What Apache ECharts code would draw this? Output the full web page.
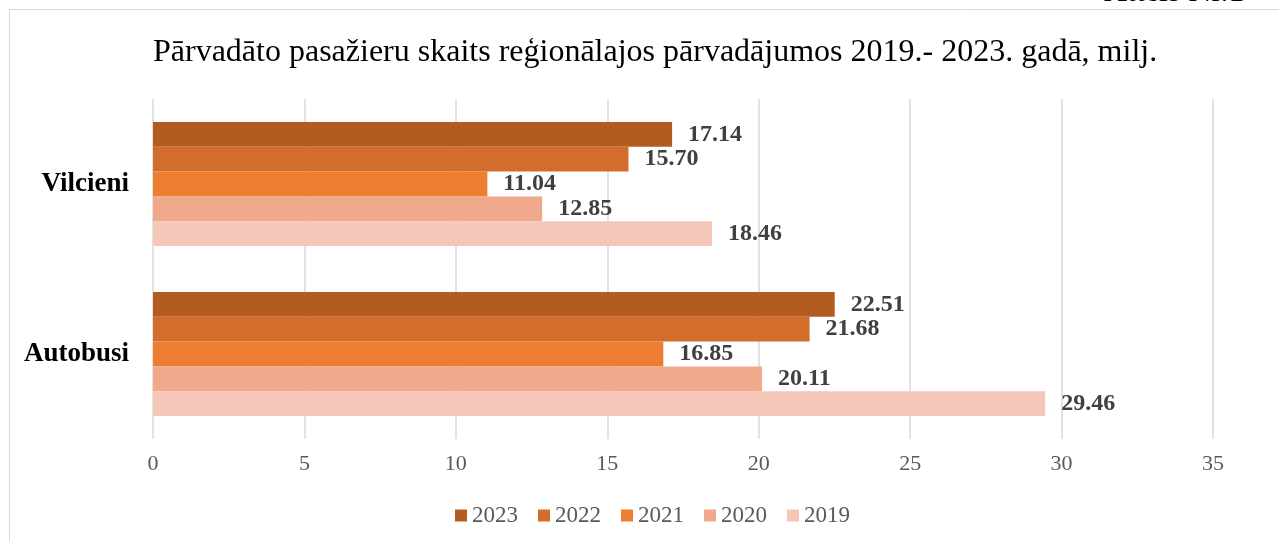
<!DOCTYPE html>
<html><head><meta charset="utf-8">
<script src="https://cdn.jsdelivr.net/npm/echarts@6/dist/echarts.min.js"></script>
<style>html,body{margin:0;padding:0;background:#fff}#c{width:1279px;height:541px}</style>
</head><body><div id="c"></div>
<script>
const categories = ['Autobusi', 'Vilcieni'];
const years = ['2023', '2022', '2021', '2020', '2019'];
const v2023 = [22.51, 17.14];
const v2022 = [21.68, 15.70];
const v2021 = [16.85, 11.04];
const v2020 = [20.11, 12.85];
const v2019 = [29.46, 18.46];
const xTicks = [0, 5, 10, 15, 20, 25, 30, 35];

const values = { '2023': v2023, '2022': v2022, '2021': v2021, '2020': v2020, '2019': v2019 };
const colors = { '2023': '#B35C22', '2022': '#D36D2B', '2021': '#ED7D31', '2020': '#F0A98A', '2019': '#F4C7B8' };
const serif = '"Liberation Serif", "DejaVu Serif", serif';

const series = years.map(y => ({
  name: y, type: 'bar', data: values[y], barGap: '0%', barCategoryGap: '27%',
  itemStyle: { color: colors[y] },
  label: { show: true, position: 'right', distance: 16, formatter: p => p.value.toFixed(2),
    fontFamily: serif, fontWeight: 'bold', fontSize: 24, color: '#404040' }
}));

const chart = echarts.init(document.getElementById('c'));
chart.setOption({
  animation: false,
  title: { text: 'Pārvadāto pasažieru skaits reģionālajos pārvadājumos 2019.- 2023. gadā, milj.',
    left: 148, top: 32, textStyle: { fontFamily: serif, fontWeight: 'normal', fontSize: 32, color: '#000' } },
  graphic: [
    { type: 'line', shape: { x1: 9.5, y1: 9.5, x2: 1279, y2: 9.5 }, style: { stroke: '#d9d9d9', lineWidth: 1 } },
    { type: 'line', shape: { x1: 9.5, y1: 9.5, x2: 9.5, y2: 541 }, style: { stroke: '#d9d9d9', lineWidth: 1 } },
    { type: 'text', left: 1104, top: -23, style: { text: 'Attēls Nr.1', font: '32px ' + serif, fill: '#000' } }
  ],
  legend: { data: years, top: 499, left: 450, itemWidth: 12, itemHeight: 12, itemGap: 20, icon: 'rect',
    textStyle: { fontFamily: serif, fontSize: 23, color: '#595959' } },
  grid: { left: 153, right: 66, top: 99, bottom: 102, containLabel: false },
  xAxis: { type: 'value', min: 0, max: 35, interval: 5,
    axisLine: { show: false }, axisTick: { show: false },
    splitLine: { show: true, lineStyle: { color: '#d9d9d9', width: 1.5 } },
    axisLabel: { margin: 14, fontFamily: serif, fontSize: 22, color: '#595959',
      formatter: v => xTicks.includes(v) ? String(v) : '' } },
  yAxis: { type: 'category', data: categories,
    axisLine: { show: false }, axisTick: { show: false },
    axisLabel: { margin: 24, fontFamily: serif, fontWeight: 'bold', fontSize: 27, color: '#000' } },
  series: series
});
</script></body></html>
